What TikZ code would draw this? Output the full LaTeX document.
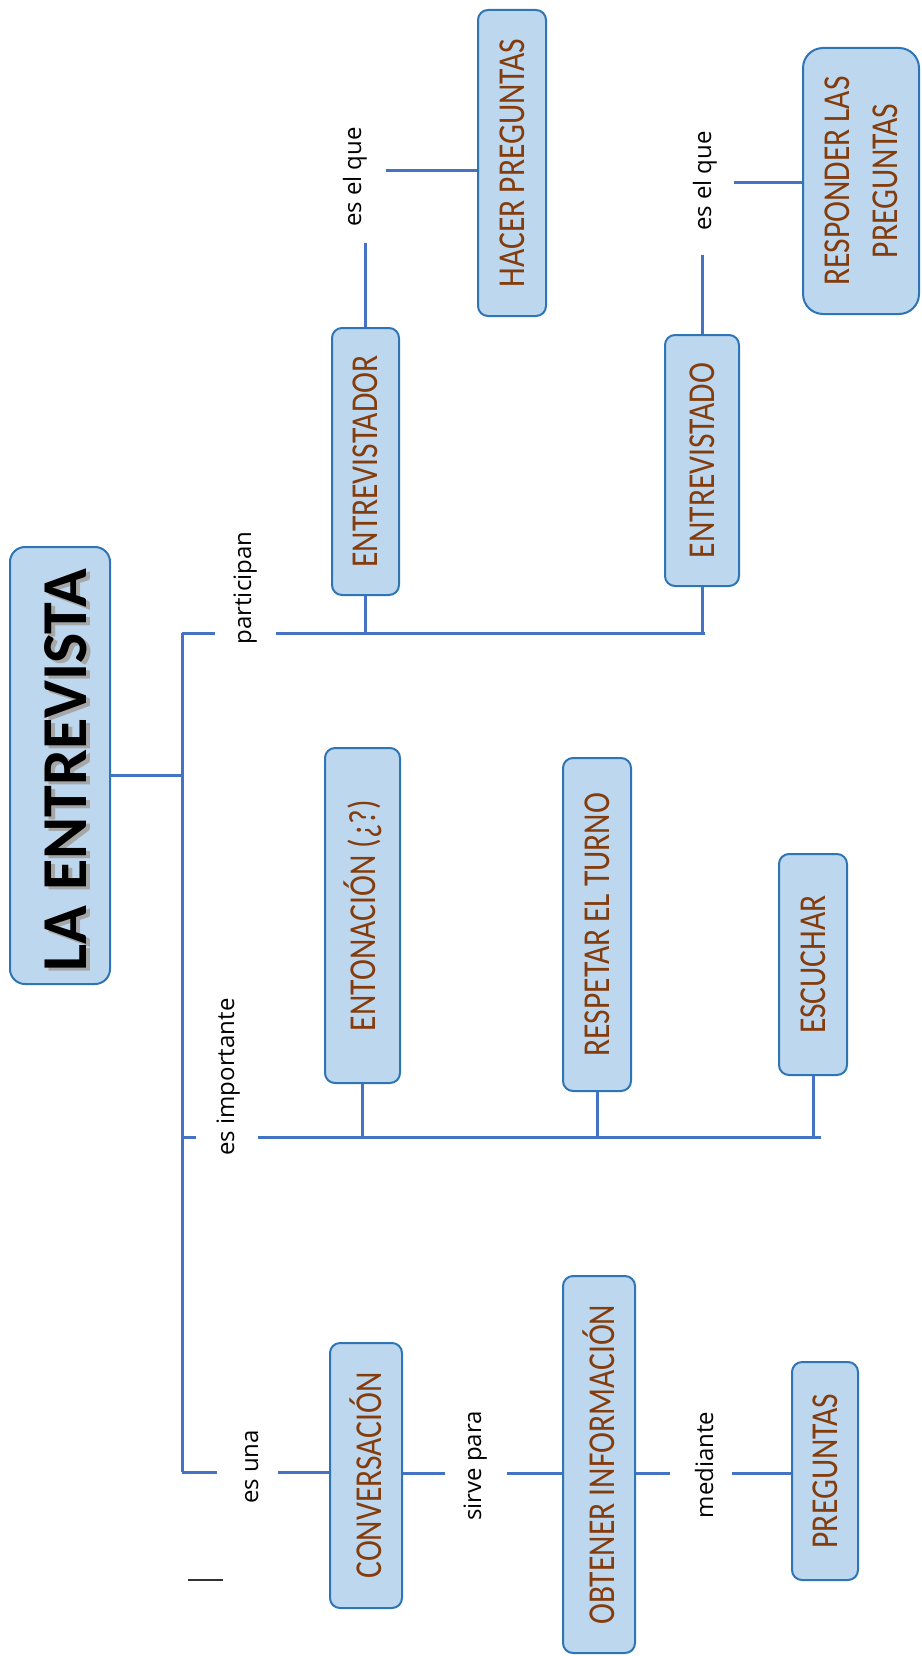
\documentclass[tikz,border=0pt]{standalone}
\usepackage{fontspec}
\setmainfont{Open Sans}
\newfontfamily\boxfont{Carlito}[FakeStretch=0.83]
\newfontfamily\titlefont{Carlito}
\definecolor{boxfill}{HTML}{BDD7EE}
\definecolor{boxline}{HTML}{2E75B6}
\definecolor{linkblue}{HTML}{4472C4}
\definecolor{conceptbrown}{HTML}{843C0C}

\begin{document}
\begin{tikzpicture}[x=1pt,y=-1pt,
        concept/.style={draw=boxline,line width=2pt,fill=boxfill,rounded corners=10pt,rotate=90,inner sep=0pt,
            text=conceptbrown,font=\boxfont\fontsize{38}{48}\selectfont,align=center},
        link/.style={draw=linkblue,line width=3pt},
        linkword/.style={rotate=90,anchor=base,inner sep=0pt,font=\fontsize{24}{28}\selectfont}]
    \useasboundingbox (0,0) rectangle (921,1656);

    \node[concept,minimum width=437pt,minimum height=100pt,rounded corners=15pt] (title) at (60,765.5) {};
    \node[rotate=90,text=gray!70,font=\titlefont\bfseries\fontsize{64}{64}\selectfont] (titleshadow) at (70,773) {LA ENTREVISTA};
    \node[rotate=90,font=\titlefont\bfseries\fontsize{64}{64}\selectfont] (titletext) at (66,770) {LA ENTREVISTA};

    \node[concept,minimum width=267pt,minimum height=67pt] (entor) at (365.5,461.5) {ENTREVISTADOR};
    \node[concept,minimum width=306pt,minimum height=68pt] (hacer) at (512,163) {HACER PREGUNTAS};
    \node[concept,minimum width=251pt,minimum height=74pt] (entdo) at (702,460.5) {ENTREVISTADO};
    \node[concept,minimum width=266pt,minimum height=116pt,rounded corners=20pt] (resp) at (861,181) {RESPONDER LAS\\PREGUNTAS};

    \node[concept,minimum width=335pt,minimum height=75pt] (enton) at (362.5,915.5) {ENTONACIÓN (¿?)};
    \node[concept,minimum width=333pt,minimum height=68pt] (turno) at (597,924.5) {RESPETAR EL TURNO};
    \node[concept,minimum width=221pt,minimum height=68pt] (escu) at (813,964.5) {ESCUCHAR};

    \node[concept,minimum width=265pt,minimum height=72pt] (conv) at (366,1475.5) {CONVERSACIÓN};
    \node[concept,minimum width=377pt,minimum height=72pt] (obt) at (599,1464.5) {OBTENER INFORMACIÓN};
    \node[concept,minimum width=218pt,minimum height=66pt] (preg) at (825,1471) {PREGUNTAS};

    \node[linkword] (lpart) at (251,588) {participan};
    \node[linkword] (lque1) at (361,177) {es el que};
    \node[linkword] (lque2) at (711,181) {es el que};
    \node[linkword] (limp) at (234,1077) {es importante};
    \node[linkword] (luna) at (258,1467) {es una};
    \node[linkword] (lsirve) at (481,1466) {sirve para};
    \node[linkword] (lmed) at (713,1465) {mediante};

    \coordinate (jt) at (182,775);
    \coordinate (sp1) at (182,633);
    \coordinate (sp2) at (182,1137);
    \coordinate (sp3) at (182,1472);
    \coordinate (p1) at (215,633);
    \coordinate (p2) at (276,633);
    \coordinate (p3) at (705,633);
    \coordinate (q1) at (360,243);
    \coordinate (q2) at (386,171);
    \coordinate (q3) at (707,255);
    \coordinate (q4) at (734,183);
    \coordinate (i1) at (196,1137);
    \coordinate (i2) at (258,1137);
    \coordinate (i3) at (821,1137);
    \coordinate (u1) at (217,1472);
    \coordinate (u2) at (278,1472);
    \coordinate (s1) at (445,1473);
    \coordinate (s2) at (507,1473);
    \coordinate (m1) at (670,1473);
    \coordinate (m2) at (732,1473);
    \coordinate (t1) at (188,1580);
    \coordinate (t2) at (223,1580);

    \draw[link] (title.south |- jt) -- (jt);
    \draw[link] (sp1) -- (sp3);

    \draw[link] (sp1) -- (p1);
    \draw[link] (p2) -- (p3);
    \draw[link] (entor.west) -- (entor.west |- p2);
    \draw[link] (entdo.west) -- (entdo.west |- p3);
    \draw[link] (entor.east) -- (entor.east |- q1);
    \draw[link] (q2) -- (hacer.north |- q2);
    \draw[link] (entdo.east) -- (entdo.east |- q3);
    \draw[link] (q4) -- (resp.north |- q4);

    \draw[link] (sp2) -- (i1);
    \draw[link] (i2) -- (i3);
    \draw[link] (enton.west) -- (enton.west |- i2);
    \draw[link] (turno.west) -- (turno.west |- i2);
    \draw[link] (escu.west) -- (escu.west |- i2);

    \draw[link] (sp3) -- (u1);
    \draw[link] (u2) -- (conv.north |- u2);
    \draw[link] (conv.south |- s1) -- (s1);
    \draw[link] (s2) -- (obt.north |- s2);
    \draw[link] (obt.south |- m1) -- (m1);
    \draw[link] (m2) -- (preg.north |- m2);

    \draw[line width=2pt,black!80] (t1) -- (t2);
\end{tikzpicture}
\end{document}
